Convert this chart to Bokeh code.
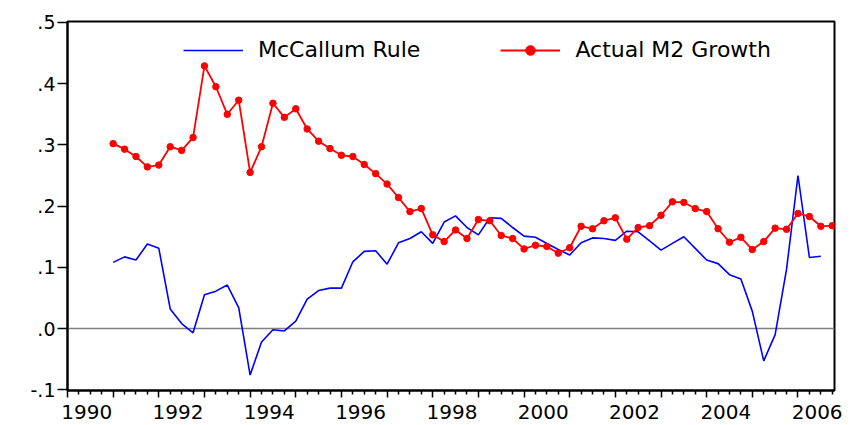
import numpy as np
import pandas as pd
from bokeh.plotting import figure
from bokeh.models import (LinearAxis, FixedTicker, Span, Legend, LegendItem, Range1d)
from bokeh.embed import file_html
from bokeh.resources import INLINE

# ---------------- data (quarterly, 1991Q1 - 2006Q4) ----------------
quarters = pd.period_range("1991Q1", "2006Q4", freq="Q")

mccallum_rule = [
    0.108, 0.117, 0.112, 0.138, 0.131, 0.032, 0.008, -0.007,
    0.055, 0.061, 0.071, 0.034, -0.076, -0.022, -0.002, -0.004,
    0.012, 0.048, 0.062, 0.066, 0.066, 0.109, 0.126, 0.127,
    0.105, 0.140, 0.147, 0.158, 0.139, 0.174, 0.184, 0.165,
    0.153, 0.181, 0.180, 0.165, 0.151, 0.149, 0.139, 0.129,
    0.120, 0.140, 0.148, 0.147, 0.144, 0.159, 0.158, 0.143,
    0.128, 0.139, 0.150, 0.131, 0.112, 0.106, 0.088, 0.081,
    0.028, -0.053, -0.010, 0.097, 0.250, 0.116, 0.118, float("nan"),
]

actual_m2_growth = [
    0.302, 0.293, 0.281, 0.264, 0.267, 0.297, 0.291, 0.312,
    0.429, 0.395, 0.350, 0.373, 0.255, 0.297, 0.368, 0.345,
    0.359, 0.326, 0.306, 0.294, 0.283, 0.281, 0.268, 0.253,
    0.236, 0.214, 0.191, 0.196, 0.153, 0.142, 0.161, 0.147,
    0.178, 0.176, 0.152, 0.147, 0.130, 0.136, 0.134, 0.123,
    0.132, 0.167, 0.163, 0.176, 0.181, 0.146, 0.165, 0.168,
    0.185, 0.207, 0.206, 0.196, 0.191, 0.163, 0.141, 0.149,
    0.129, 0.142, 0.164, 0.162, 0.188, 0.183, 0.167, 0.168,
]

ytick_values = [-0.1, 0.0, 0.1, 0.2, 0.3, 0.4, 0.5]
ytick_labels = ["-.1", ".0", ".1", ".2", ".3", ".4", ".5"]
xlabel_years = [1990, 1992, 1994, 1996, 1998, 2000, 2002, 2004, 2006]
axis_years = list(range(1990, 2007))

# ---------------- derived positions ----------------
x = (quarters.year + (quarters.quarter - 1) / 4.0).to_numpy(dtype=float)
minor_q = [y + q / 4.0 for y in axis_years for q in (1, 2, 3)]
label_pos = [y + 0.42 for y in xlabel_years]

FONT = "DejaVu Sans"

p = figure(width=851, height=424,
           x_range=Range1d(1990.0, 2006.80), y_range=Range1d(-0.1013, 0.5016),
           output_backend="svg", toolbar_location=None,
           min_border_left=67, min_border_right=17, min_border_top=21, min_border_bottom=34)

p.background_fill_color = "white"
p.border_fill_color = "white"
p.outline_line_color = "black"
p.outline_line_width = 2
p.xgrid.grid_line_color = None
p.ygrid.grid_line_color = None

# x axis: ticks only (years major, quarters minor)
xa = p.xaxis[0]
xa.ticker = FixedTicker(ticks=axis_years, minor_ticks=minor_q)
xa.axis_line_color = "black"
xa.axis_line_width = 2
xa.major_tick_line_color = "black"
xa.major_tick_line_width = 1.5
xa.major_tick_in = 0
xa.major_tick_out = 7
xa.minor_tick_line_color = "black"
xa.minor_tick_line_width = 1.5
xa.minor_tick_in = 0
xa.minor_tick_out = 4
xa.major_label_text_font_size = "0px"
xa.major_label_text_color = None
xa.major_label_standoff = 0

# x axis labels (even years, placed inside the year interval)
xl = LinearAxis(ticker=FixedTicker(ticks=label_pos, minor_ticks=[]),
                major_label_overrides={pos: str(yr) for pos, yr in zip(label_pos, xlabel_years)},
                axis_line_color=None, major_tick_line_color=None, minor_tick_line_color=None,
                major_label_standoff=1, major_label_text_font=FONT,
                major_label_text_font_size="20px", major_label_text_color="black")
p.add_layout(xl, "below")

# y axis
ya = p.yaxis[0]
ya.ticker = FixedTicker(ticks=ytick_values, minor_ticks=[])
ya.major_label_overrides = dict(zip(ytick_values, ytick_labels))
ya.axis_line_color = "black"
ya.axis_line_width = 2
ya.major_tick_line_color = "black"
ya.major_tick_line_width = 1.5
ya.major_tick_in = 0
ya.major_tick_out = 10
ya.minor_tick_line_color = None
ya.major_label_standoff = 2
ya.major_label_text_font = FONT
ya.major_label_text_font_size = "19px"
ya.major_label_text_color = "black"

# zero line
p.add_layout(Span(location=0, dimension="width", line_color="#808080",
                  line_width=1.5, level="underlay"))

blue = p.line(x, mccallum_rule, line_color="#0000FF", line_width=1.6)
red_line = p.line(x, actual_m2_growth, line_color="#FF0000", line_width=1.8)
red_pts = p.scatter(x, actual_m2_growth, size=6.5, color="#FF0000")

legend = Legend(items=[LegendItem(label="McCallum Rule", renderers=[blue]),
                       LegendItem(label="Actual M2 Growth", renderers=[red_line, red_pts])],
                location=(116, 328), orientation="horizontal",
                border_line_color=None, background_fill_alpha=0,
                padding=0, margin=0, spacing=80,
                glyph_width=60, glyph_height=24, label_height=24, label_standoff=15,
                label_text_font=FONT, label_text_font_size="22px",
                label_text_color="black")
p.add_layout(legend)

open("out.html", "w").write(file_html(p, INLINE))
